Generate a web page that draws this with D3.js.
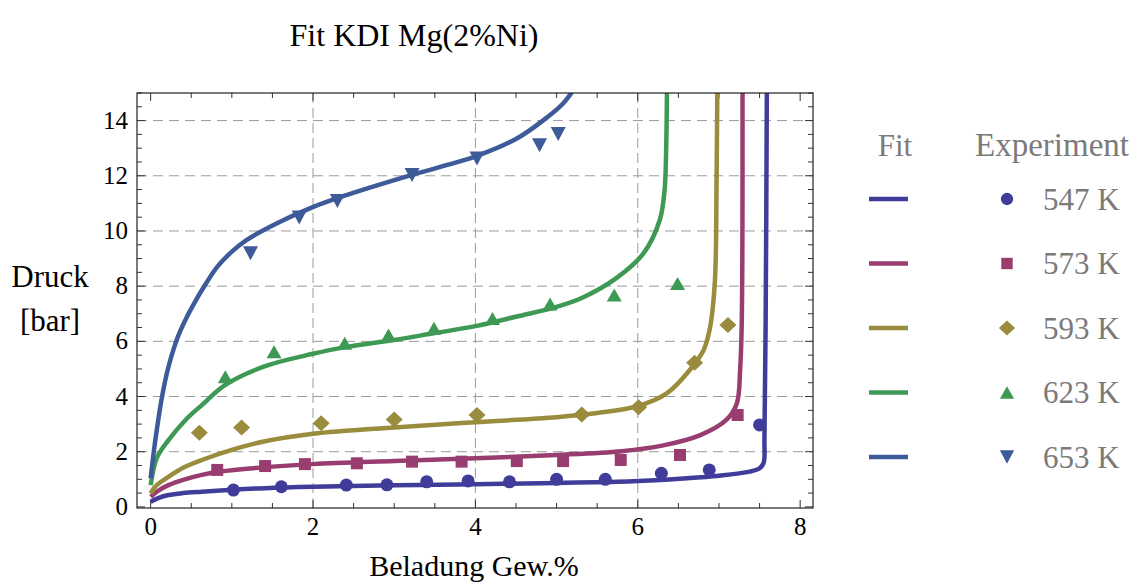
<!DOCTYPE html>
<html>
<head>
<meta charset="utf-8">
<script src="https://cdn.jsdelivr.net/npm/d3@7"></script>
<style>
  body { margin: 0; background: #fff; }
  svg text { font-family: "Liberation Serif", "DejaVu Serif", serif; }
</style>
</head>
<body>
<div id="chart"></div>
<script>
// Series labels and colours (Mathematica default palette)
const series = ["547 K", "573 K", "593 K", "623 K", "653 K"];
const colors = ["#3f3d99", "#993d71", "#998c3d", "#3d9954", "#3d5a99"];
const shapes = ["circle", "square", "diamond", "triangleUp", "triangleDown"];

// Measured points, [Beladung Gew.%, Druck bar]
const exp547 = [[1.02,0.61],[1.61,0.73],[2.41,0.79],[2.91,0.80],[3.40,0.91],[3.91,0.94],[4.42,0.91],[5.00,1.00],[5.60,1.00],[6.29,1.22],[6.88,1.34],[7.50,2.97]];
const exp573 = [[0.82,1.34],[1.41,1.48],[1.90,1.55],[2.54,1.58],[3.22,1.64],[3.83,1.64],[4.51,1.66],[5.08,1.66],[5.79,1.70],[6.52,1.88],[7.23,3.33]];
const exp593 = [[0.60,2.69],[1.12,2.88],[2.10,3.03],[3.00,3.17],[4.02,3.33],[5.31,3.35],[6.01,3.61],[6.70,5.22],[7.11,6.59]];
const exp623 = [[0.92,4.72],[1.52,5.62],[2.39,5.93],[2.93,6.23],[3.49,6.47],[4.21,6.83],[4.92,7.35],[5.71,7.68],[6.49,8.10]];
const exp653 = [[1.23,9.19],[1.83,10.49],[2.30,11.09],[3.22,12.03],[4.02,12.63],[4.79,13.11],[5.02,13.51]];

// Fit curves
const fit547 = [[0,0.19],[0.1,0.33],[0.22,0.43],[0.4,0.5],[0.63,0.55],[1.0,0.62],[1.41,0.68],[2.0,0.73],[3.0,0.78],[4.0,0.82],[5.0,0.87],[5.94,0.93],[6.56,1.03],[7.0,1.13],[7.38,1.28],[7.5,1.4],[7.55,1.6],[7.56,2.5],[7.575,6.8],[7.59,15.4]];
const fit573 = [[0,0.37],[0.1,0.6],[0.22,0.79],[0.4,0.98],[0.63,1.16],[0.85,1.28],[1.41,1.44],[2.0,1.55],[3.0,1.66],[4.0,1.76],[5.0,1.88],[5.8,2.02],[6.3,2.22],[6.77,2.6],[7.09,3.15],[7.22,3.75],[7.26,4.96],[7.28,6.6],[7.29,15.4]];
const fit593 = [[0,0.49],[0.06,0.75],[0.22,1.09],[0.4,1.42],[0.63,1.70],[1.04,2.1],[1.41,2.38],[2.0,2.65],[3.0,2.88],[4.0,3.07],[5.0,3.25],[5.5,3.4],[6.01,3.66],[6.36,4.12],[6.64,4.96],[6.81,5.68],[6.89,6.5],[6.95,8.2],[6.97,11.8],[6.98,15.4]];
const fit623 = [[0,0.79],[0.08,1.8],[0.22,2.42],[0.43,3.15],[0.63,3.69],[0.92,4.42],[1.41,5.1],[2.0,5.55],[2.41,5.8],[3.0,6.05],[3.5,6.3],[4.0,6.55],[4.51,6.9],[5.0,7.25],[5.33,7.6],[5.74,8.3],[6.07,9.19],[6.27,10.39],[6.33,11.48],[6.35,13.05],[6.36,15.4]];
const fit653 = [[0,1.04],[0.05,2.25],[0.14,3.99],[0.22,5.08],[0.34,6.2],[0.44,6.85],[0.55,7.45],[0.63,7.85],[0.82,8.7],[1.0,9.25],[1.18,9.67],[1.55,10.27],[1.96,10.82],[2.29,11.18],[3.24,12.05],[3.69,12.42],[4.02,12.72],[4.51,13.35],[4.84,14.02],[5.08,14.62],[5.25,15.3]];

const expData = [exp547, exp573, exp593, exp623, exp653];
const fitData = [fit547, fit573, fit593, fit623, fit653];

const xTicks = [0, 2, 4, 6, 8];
const yTicks = [0, 2, 4, 6, 8, 10, 12, 14];

const width = 1134, height = 585;
const plot = { left: 137, right: 813, top: 93, bottom: 508 };

const x = d3.scaleLinear().domain([-0.168, 8.158]).range([plot.left, plot.right]);
const y = d3.scaleLinear().domain([-0.04, 15.0]).range([plot.bottom, plot.top]);

const svg = d3.select("#chart").append("svg")
    .attr("width", width)
    .attr("height", height);

// Marker shapes
function markerPath(shape, k = 1) {
  switch (shape) {
    case "circle": return d3.symbol(d3.symbolCircle, Math.PI * 6.5 * 6.5 * k * k)();
    case "square": return d3.symbol(d3.symbolSquare, 144 * k * k)();
    case "diamond": return `M0,${-8*k}L${8.5*k},0L0,${8*k}L${-8.5*k},0Z`;
    case "triangleUp": return `M0,${-6.5*k}L${7.5*k},${6.5*k}L${-7.5*k},${6.5*k}Z`;
    case "triangleDown": return `M${-7.5*k},${-7*k}L${7.5*k},${-7*k}L0,${7*k}Z`;
  }
}

// Grid lines
const grid = svg.append("g").attr("stroke", "#9a9a9a").attr("stroke-width", 1);
grid.selectAll("line.h")
  .data(yTicks.filter(d => d > 0))
  .join("line")
    .attr("x1", plot.left).attr("x2", plot.right)
    .attr("y1", d => y(d)).attr("y2", d => y(d))
    .attr("stroke-dasharray", "10,6");
grid.selectAll("line.v")
  .data(xTicks.filter(d => d > 0 && d < 8))
  .join("line")
    .attr("class", "v")
    .attr("x1", d => x(d)).attr("x2", d => x(d))
    .attr("y1", plot.top).attr("y2", plot.bottom)
    .attr("stroke-dasharray", "10,5");

// Frame ticks on all four sides
const xMinor = d3.range(0, 8.01, 0.5);
const yMinor = d3.range(0, 15.01, 0.5);
const ticks = svg.append("g").attr("stroke", "#333").attr("stroke-width", 1);
const isMajorX = d => xTicks.includes(d);
const isMajorY = d => yTicks.includes(d);
ticks.selectAll(null).data(xMinor).join("line")
  .attr("x1", d => x(d)).attr("x2", d => x(d))
  .attr("y1", plot.bottom).attr("y2", d => plot.bottom - (isMajorX(d) ? 8 : 5));
ticks.selectAll(null).data(xMinor).join("line")
  .attr("x1", d => x(d)).attr("x2", d => x(d))
  .attr("y1", plot.top).attr("y2", d => plot.top + (isMajorX(d) ? 8 : 5));
ticks.selectAll(null).data(yMinor).join("line")
  .attr("y1", d => y(d)).attr("y2", d => y(d))
  .attr("x1", plot.left).attr("x2", d => plot.left + (isMajorY(d) ? 8 : 5));
ticks.selectAll(null).data(yMinor).join("line")
  .attr("y1", d => y(d)).attr("y2", d => y(d))
  .attr("x1", plot.right).attr("x2", d => plot.right - (isMajorY(d) ? 8 : 5));

// Fit curves, clipped to the frame
svg.append("clipPath").attr("id", "clip")
  .append("rect")
    .attr("x", plot.left).attr("y", plot.top)
    .attr("width", plot.right - plot.left).attr("height", plot.bottom - plot.top);

const line = d3.line()
  .x(d => x(d[0]))
  .y(d => y(d[1]))
  .curve(d3.curveCatmullRom.alpha(0.5));

svg.append("g").attr("clip-path", "url(#clip)")
  .selectAll("path")
  .data(fitData)
  .join("path")
    .attr("fill", "none")
    .attr("stroke", (d, i) => colors[i])
    .attr("stroke-width", 4.5)
    .attr("stroke-linejoin", "round")
    .attr("d", line);

// Experimental points
expData.forEach((pts, i) => {
  svg.append("g")
    .selectAll("path")
    .data(pts)
    .join("path")
      .attr("transform", d => `translate(${x(d[0])},${y(d[1])})`)
      .attr("fill", colors[i])
      .attr("d", markerPath(shapes[i]));
});

// Frame
svg.append("rect")
  .attr("x", plot.left).attr("y", plot.top)
  .attr("width", plot.right - plot.left).attr("height", plot.bottom - plot.top)
  .attr("fill", "none")
  .attr("stroke", "#222")
  .attr("stroke-width", 1.2);

// Tick labels
svg.append("g").selectAll("text")
  .data(xTicks)
  .join("text")
    .attr("x", d => x(d))
    .attr("y", 535)
    .attr("text-anchor", "middle")
    .attr("font-size", 25)
    .text(d => d);
svg.append("g").selectAll("text")
  .data(yTicks)
  .join("text")
    .attr("x", 128)
    .attr("y", d => y(d) + 8)
    .attr("text-anchor", "end")
    .attr("font-size", 25)
    .text(d => d);

// Titles
svg.append("text")
  .attr("x", 414).attr("y", 46)
  .attr("text-anchor", "middle")
  .attr("font-size", 32)
  .text("Fit KDI Mg(2%Ni)");
svg.append("text")
  .attr("x", 474).attr("y", 576)
  .attr("text-anchor", "middle")
  .attr("font-size", 30)
  .text("Beladung Gew.%");
svg.append("text")
  .attr("x", 50).attr("y", 287)
  .attr("text-anchor", "middle")
  .attr("font-size", 31)
  .text("Druck");
svg.append("text")
  .attr("x", 50).attr("y", 331)
  .attr("text-anchor", "middle")
  .attr("font-size", 31)
  .text("[bar]");

// Legend
const legend = svg.append("g").attr("fill", "#7a7a7a").attr("font-size", 31);
legend.append("text").attr("x", 895).attr("y", 156).attr("text-anchor", "middle").text("Fit");
legend.append("text").attr("x", 1052).attr("y", 156).attr("text-anchor", "middle")
  .attr("font-size", 33).text("Experiment");

const rowY = d3.scalePoint().domain(series).range([199, 457]);
const rows = legend.selectAll("g.row")
  .data(series)
  .join("g")
    .attr("transform", d => `translate(0,${rowY(d)})`);
rows.append("line")
  .attr("x1", 869).attr("x2", 908)
  .attr("stroke", (d, i) => colors[i])
  .attr("stroke-width", 4.5);
rows.append("path")
  .attr("transform", "translate(1007,0)")
  .attr("fill", (d, i) => colors[i])
  .attr("d", (d, i) => markerPath(shapes[i], 0.95));
rows.append("text")
  .attr("x", 1043).attr("y", 10.5)
  .text(d => d);
</script>
</body>
</html>
